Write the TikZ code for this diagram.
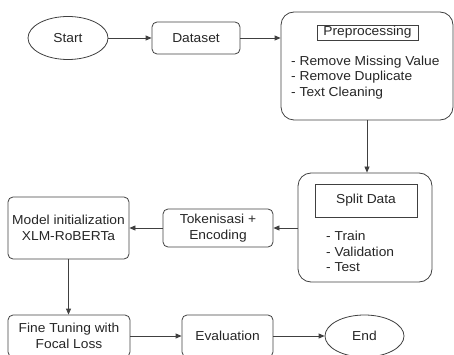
\documentclass[tikz,border=0pt]{standalone}
\usepackage{fontspec}
\setmainfont{Liberation Sans}[FakeStretch=1.06]
\usetikzlibrary{positioning, arrows.meta, shapes.geometric}

\tikzset{
    flowline/.style={-{Triangle[length=6pt, width=5pt]}, line width=0.8pt, draw=black!75},
    stepbox/.style={draw=black!75, line width=0.8pt, rectangle, rounded corners=5pt, align=center, inner sep=1pt},
    bigbox/.style={draw=black!75, line width=0.8pt, rectangle, rounded corners=13pt, inner sep=0pt},
    titlebox/.style={draw=black!75, line width=0.8pt, rectangle, align=center, inner sep=0pt},
    termnode/.style={draw=black!75, line width=0.8pt, ellipse, inner sep=0pt},
    listtext/.style={align=left, anchor=west, inner sep=0pt}
}

\begin{document}
\begin{tikzpicture}[x=1pt, y=-1pt, font=\fontsize{13}{15.7}\selectfont, text=black!85]
    \useasboundingbox (0, 0) rectangle (454, 355);

    % top row
    \node (start) [termnode, minimum width=80pt, minimum height=43pt] at (68, 38) {Start};
    \node (dataset) [stepbox, minimum width=88pt, minimum height=32pt] at (196, 38) {Dataset};
    \node (prep) [bigbox, minimum width=172pt, minimum height=108pt] at (367, 66) {};
    \node (preptitle) [titlebox, minimum width=101pt, minimum height=15pt] at (367.5, 32.5) {Preprocessing};
    \node (preplist) [listtext] at (291, 77.5) {- Remove Missing Value\\- Remove Duplicate\\- Text Cleaning};

    % middle row
    \node (split) [bigbox, minimum width=134pt, minimum height=109pt] at (365, 227.5) {};
    \node (splittitle) [titlebox, minimum width=102pt, minimum height=33pt] at (366, 200.5) {Split Data};
    \node (splitlist) [listtext] at (326, 251.5) {- Train\\- Validation\\- Test};
    \node (tok) [stepbox, minimum width=110pt, minimum height=38pt] at (218, 228) {Tokenisasi +\\Encoding};
    \node (model) [stepbox, minimum width=121pt, minimum height=62pt] at (68.5, 228) {Model initialization\\XLM-RoBERTa};

    % bottom row
    \node (fine) [stepbox, minimum width=122pt, minimum height=42pt] at (69, 336) {Fine Tuning with\\Focal Loss};
    \node (eval) [stepbox, minimum width=91pt, minimum height=42pt] at (227.5, 336) {Evaluation};
    \node (end) [termnode, minimum width=79pt, minimum height=42pt] at (364.5, 336) {End};

    \draw [flowline] (start.east) -- (dataset.west);
    \draw [flowline] (dataset.east) -- (prep.west |- dataset.east);
    \draw [flowline] (prep.south) -- (prep.south |- split.north);
    \draw [flowline] (split.west |- tok.east) -- (tok.east);
    \draw [flowline] (tok.west) -- (model.east |- tok.west);
    \draw [flowline] (model.south) -- (model.south |- fine.north);
    \draw [flowline] (fine.east) -- (eval.west);
    \draw [flowline] (eval.east) -- (end.west);
\end{tikzpicture}
\end{document}
